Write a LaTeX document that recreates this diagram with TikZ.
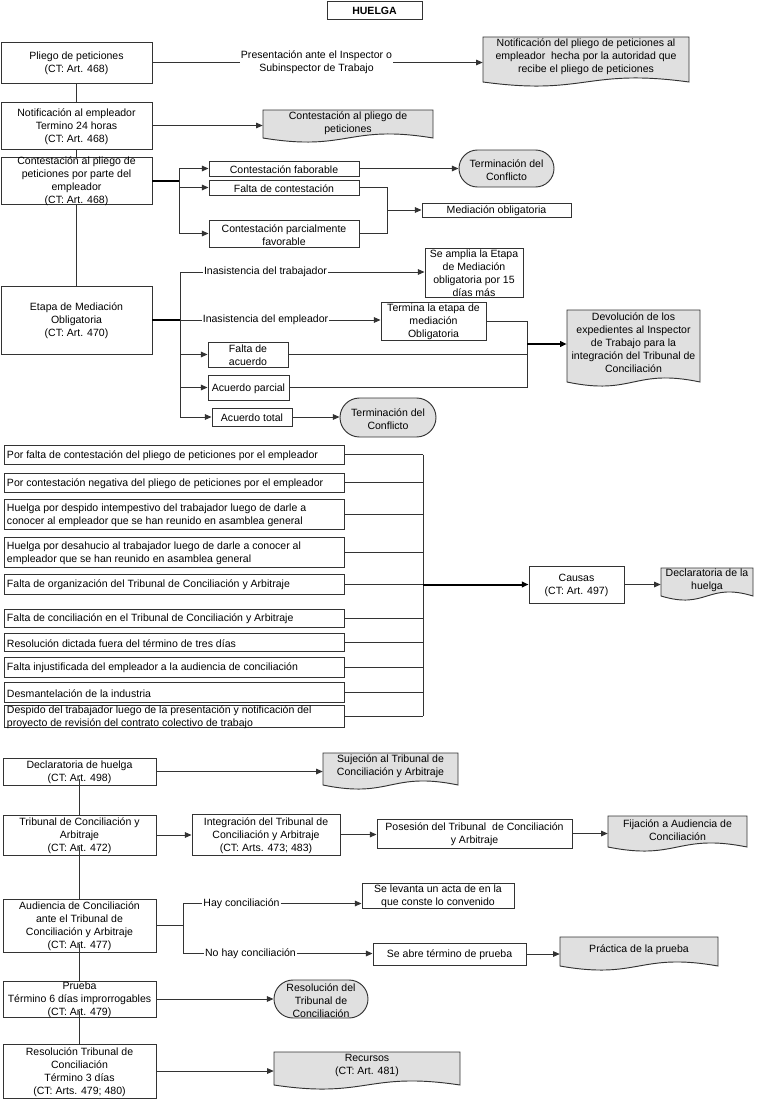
\documentclass[tikz,border=0pt]{standalone}
\usepackage{fontspec}
\setmainfont{Liberation Sans}
\usetikzlibrary{arrows.meta,shapes.misc,calc}
\definecolor{docgray}{HTML}{E0E0E0}
\tikzset{
 boxst/.style={draw=black!80, line width=0.7pt, fill=white, inner sep=0pt, rectangle},
 txt/.style={inner sep=0pt, align=center, font=\fontsize{7.9}{9.75}\selectfont, text=black, yshift=-0.9pt},
 docst/.style={draw=black!80, line width=0.7pt, fill=docgray},
 stad/.style={draw=black!80, line width=0.7pt, fill=docgray, rounded rectangle, inner sep=0pt},
 conn/.style={draw=black!80, line width=0.7pt},
 arr/.style={conn, -{Triangle[length=5pt,width=4.2pt]}},
 thk/.style={draw=black, line width=1.5pt},
 thkarr/.style={thk, -{Triangle[length=5pt,width=4.2pt]}},
 lbl/.style={txt, inner sep=0.6pt, yshift=0.9pt},
}
% box: name, x1, y1, x2, y2, text
\newcommand{\bx}[6]{%
 \node[boxst, minimum width={(#4-#2)*0.75pt}, minimum height={(#5-#3)*0.75pt}] (#1) at ({(#2+#4)/2},{(#3+#5)/2}) {};
 \node[txt] (#1-t) at (#1.center) {#6};}
% left aligned box
\newcommand{\lbx}[6]{%
 \node[boxst, minimum width={(#4-#2)*0.75pt}, minimum height={(#5-#3)*0.75pt}] (#1) at ({(#2+#4)/2},{(#3+#5)/2}) {};
 \node[txt, align=left, anchor=west] (#1-t) at ([xshift=2.4pt]#1.west) {#6};}
% stadium
\newcommand{\stadium}[6]{%
 \node[stad, minimum width={(#4-#2)*0.75pt}, minimum height={(#5-#3)*0.75pt}] (#1) at ({(#2+#4)/2},{(#3+#5)/2}) {};
 \node[txt] (#1-t) at (#1.center) {#6};}
% document: name, x1, top, x2, side bottom, text y, text
\newcommand{\doc}[7]{%
 \path[docst] (#2,#3) -- (#4,#3) -- (#4,#5) .. controls ({(#2+#4)/2},{#5-14}) and ({(#2+#4)/2},{#5+14}) .. (#2,#5) -- cycle;
 \node[inner sep=0pt, minimum width={(#4-#2)*0.75pt}, minimum height={(#5-#3)*0.75pt}] (#1) at ({(#2+#4)/2},{(#3+#5)/2}) {};
 \node[txt] (#1-t) at ({(#2+#4)/2},#6) {#7};}
\begin{document}
\begin{tikzpicture}[x=0.75pt,y=-0.75pt]
\fill[white] (0,0) rectangle (757,1099);
\useasboundingbox (0,0) rectangle (757,1099);

\bx{title}{327}{1}{422}{19}{\textbf{HUELGA}}

% ---------- top section
\bx{p1}{1}{42}{152}{83}{Pliego de peticiones\\(CT: Art. 468)}
\node[lbl] (l1) at (316.5,62.5) {Presentación ante el Inspector o\\Subinspector de Trabajo};
\doc{d1}{483}{37}{689}{82}{56}{Notificación del pliego de peticiones al\\empleador~ hecha por la autoridad que\\recibe el pliego de peticiones}
\draw[conn] (p1.east) -- (l1.west);
\draw[arr] (l1.east) -- (l1.east -| d1.west);

\bx{p2}{1}{102}{152}{149}{Notificación al empleador\\Termino 24 horas\\(CT: Art. 468)}
\doc{d2}{263}{110}{433}{138}{122}{Contestación al pliego de\\peticiones}
\draw[conn] (p1.south) -- (p2.north);
\draw[arr] (p2.east) -- (p2.east -| d2.west);

\bx{p3}{1}{157}{152}{204}{Contestación al pliego de\\peticiones por parte del\\empleador\\(CT: Art. 468)}
\draw[conn] (p2.south) -- (p3.north);
\bx{b1}{209}{161}{359}{176}{Contestación faborable}
\bx{b2}{209}{180}{359}{195}{Falta de contestación}
\bx{b3}{209}{220}{359}{247}{Contestación parcialmente\\favorable}
\coordinate (j1) at (179,180.5);
\draw[thk] (p3.east) -- (j1);
\draw[arr] (j1) |- (b1.west);
\draw[arr] (j1) |- (b2.west);
\draw[arr] (j1) |- (b3.west);
\stadium{t1}{459}{150}{554}{187}{Terminación del\\Conflicto}
\draw[arr] (b1.east) -- (t1.west);
\bx{m1}{422}{203}{571}{217}{Mediación obligatoria}
\coordinate (j1b) at (387,210);
\draw[conn] (b2.east) -| (j1b);
\draw[conn] (b3.east) -| (j1b);
\draw[arr] (j1b) -- (m1.west);

% ---------- mediation
\bx{p4}{1}{286}{152}{354}{Etapa de Mediación\\Obligatoria\\(CT: Art. 470)}
\draw[conn] (p3.south) -- (p4.north);
\coordinate (j2) at (180,320);
\draw[thk] (p4.east) -- (j2);
\node[lbl] (l2) at (265.5,272) {Inasistencia del trabajador};
\node[lbl] (l3) at (265.5,320) {Inasistencia del empleador};
\bx{s1}{425}{248}{523}{297}{Se amplia la Etapa\\de Mediación\\obligatoria por 15\\días más}
\bx{s2}{381}{302}{486}{340}{Termina la etapa de\\mediación\\Obligatoria}
\draw[conn] (j2) |- (l2.west);
\draw[arr] (l2.east) -- (l2.east -| s1.west);
\draw[conn] (j2) -- (l3.west);
\draw[arr] (l3.east) -- (l3.east -| s2.west);
\bx{b4}{208}{342}{288}{367}{Falta de\\acuerdo}
\bx{b5}{208}{375}{289}{400}{Acuerdo parcial}
\bx{b6}{212}{408}{292}{426}{Acuerdo total}
\draw[arr] (j2) |- (b4.west);
\draw[arr] (j2) |- (b5.west);
\draw[arr] (j2) |- (b6.west);
\stadium{t2}{340}{398}{436}{437}{Terminación del\\Conflicto}
\draw[arr] (b6.east) -- (b6.east -| t2.west);
\coordinate (j3) at (527,344);
\draw[conn] (s2.east) -| (j3);
\draw[conn] (b4.east) -| (j3);
\draw[conn] (b5.east) -| (j3);
\doc{d3}{567}{310}{700}{382}{341}{Devolución de los\\expedientes al Inspector\\de Trabajo para la\\integración del Tribunal de\\Conciliación}
\draw[thkarr] (j3) -- (j3 -| d3.west);

% ---------- causes
\lbx{c1}{4}{445}{344}{464}{Por falta de contestación del pliego de peticiones por el empleador}
\lbx{c2}{4}{473}{344}{492}{Por contestación negativa del pliego de peticiones por el empleador}
\lbx{c3}{4}{499}{344}{529}{Huelga por despido intempestivo del trabajador luego de darle a\\conocer al empleador que se han reunido en asamblea general}
\lbx{c4}{4}{537}{344}{567}{Huelga por desahucio al trabajador luego de darle a conocer al\\empleador que se han reunido en asamblea general}
\lbx{c5}{4}{574}{344}{594}{Falta de organización del Tribunal de Conciliación y Arbitraje}
\lbx{c6}{4}{609}{344}{627}{Falta de conciliación en el Tribunal de Conciliación y Arbitraje}
\lbx{c7}{4}{633}{344}{651}{Resolución dictada fuera del término de tres días}
\lbx{c8}{4}{657}{344}{677}{Falta injustificada del empleador a la audiencia de conciliación}
\lbx{c9}{4}{682}{344}{702}{Desmantelación de la industria}
\lbx{c10}{4}{705}{344}{727}{Despido del trabajador luego de la presentación y notificación del\\proyecto de revisión del contrato colectivo de trabajo}
\coordinate (j4) at (423,584.5);
\foreach \i in {1,...,10} {\draw[conn] (c\i.east) -- (c\i.east -| j4);}
\draw[conn] (c1.east -| j4) -- (c10.east -| j4);
\bx{causas}{529}{566}{624}{603}{Causas\\(CT: Art. 497)}
\draw[thkarr] (j4) -- (causas.west);
\doc{d4}{661}{568}{753}{596}{579}{Declaratoria de la\\huelga}
\draw[arr] (causas.east) -- (causas.east -| d4.west);

% ---------- bottom section
\bx{q1}{3}{758}{156}{785}{Declaratoria de huelga\\(CT: Art. 498)}
\doc{d5}{323}{753}{458}{785}{765.5}{Sujeción al Tribunal de\\Conciliación y Arbitraje}
\draw[arr] (q1.east) -- (q1.east -| d5.west);

\bx{q2}{3}{815}{156}{855}{Tribunal de Conciliación y\\Arbitraje\\(CT: Art. 472)}
\bx{q3}{192}{814}{340}{855}{Integración del Tribunal de\\Conciliación y Arbitraje\\(CT: Arts. 473; 483)}
\bx{q4}{377}{819}{572}{848}{Posesión del Tribunal~ de Conciliación\\y Arbitraje}
\doc{d6}{608}{816}{747}{847}{828.5}{Fijación a Audiencia de\\Conciliación}
\draw[arr] (q2.east) -- (q2.east -| q3.west);
\draw[arr] (q3.east) -- (q3.east -| q4.west);
\draw[arr] (q4.east) -- (q4.east -| d6.west);

\bx{q5}{3}{899}{156}{952}{Audiencia de Conciliación\\ante el Tribunal de\\Conciliación y Arbitraje\\(CT: Art. 477)}
\coordinate (j5) at (183,925.5);
\draw[conn] (q5.east) -- (j5);
\node[lbl] (l4) at (241.5,903.5) {Hay conciliación};
\node[lbl] (l5) at (250.5,953.5) {No hay conciliación};
\bx{q6}{362}{883}{514}{908}{Se levanta un acta de en la\\que conste lo convenido}
\bx{q7}{373}{943}{526}{965}{Se abre término de prueba}
\draw[conn] (j5) |- (l4.west);
\draw[arr] (l4.east) -- (l4.east -| q6.west);
\draw[conn] (j5) |- (l5.west);
\draw[arr] (l5.east) -- (l5.east -| q7.west);
\doc{d7}{560}{937}{718}{966}{949}{Práctica de la prueba}
\draw[arr] (q7.east) -- (q7.east -| d7.west);

\bx{q8}{3}{981}{156}{1017}{Prueba\\Término 6 días improrrogables\\(CT: Art. 479)}
\stadium{t3}{274}{980}{368}{1018}{Resolución del\\Tribunal de\\Conciliación}
\draw[arr] (q8.east) -- (q8.east -| t3.west);

\bx{q9}{3}{1044}{156}{1098}{Resolución Tribunal de\\Conciliación\\Término 3 días\\(CT: Arts. 479; 480)}
\doc{d8}{274}{1052}{460}{1085}{1064.5}{Recursos\\(CT: Art. 481)}
\draw[arr] (q9.east) -- (q9.east -| d8.west);

\draw[conn] ([yshift=5pt]q1.south) -- (q2.north);
\draw[conn] ([yshift=6pt]q2.south) -- (q5.north);
\draw[conn] ([yshift=6pt]q5.south) -- (q8.north);
\draw[conn] ([yshift=5pt]q8.south) -- (q9.north);
\end{tikzpicture}
\end{document}
